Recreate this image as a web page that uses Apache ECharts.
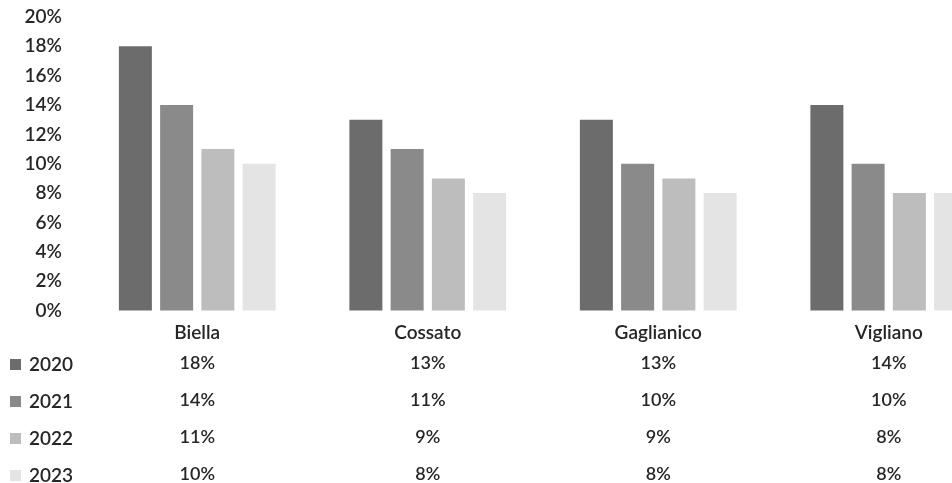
<!DOCTYPE html>
<html>
<head>
<meta charset="utf-8">
<script src="https://cdn.jsdelivr.net/npm/echarts@6/dist/echarts.min.js"></script>
<style>
  html, body { margin: 0; padding: 0; background: #ffffff; overflow: hidden; }
  /* The plot runs past the right edge of the page, so the last bar is cut off */
  #chart { width: 1004px; height: 483px; }
</style>
</head>
<body>
<div id="chart"></div>
<script>
// Comuni and yearly shares (%)
const comuni = ['Biella', 'Cossato', 'Gaglianico', 'Vigliano'];
const years = ['2020', '2021', '2022', '2023'];
const v2020 = [18, 13, 13, 14];
const v2021 = [14, 11, 10, 10];
const v2022 = [11, 9, 9, 8];
const v2023 = [10, 8, 8, 8];
const yTicks = { min: 0, max: 20, step: 2 };

const seriesValues = [v2020, v2021, v2022, v2023];
const colors = ['#6c6c6c', '#8a8a8a', '#bdbdbd', '#e4e4e4'];
const FONT = 'Lato';
const WEIGHT = 600;
const TEXT = '#262626';

const chart = echarts.init(document.getElementById('chart'), null, { renderer: 'canvas' });

chart.setOption({
  animation: false,
  backgroundColor: '#ffffff',
  textStyle: { fontFamily: FONT, color: TEXT },
  grid: { left: 82, top: 17, right: 0, height: 295, containLabel: false },
  legend: {
    orient: 'vertical',
    left: 10,
    top: 355,
    height: 200,
    padding: 0,
    itemWidth: 11,
    itemHeight: 11,
    itemGap: 18,
    icon: 'rect',
    selectedMode: false,
    data: years,
    textStyle: { fontFamily: FONT, fontWeight: WEIGHT, fontSize: 19, color: TEXT, padding: [0, 0, 0, 3] }
  },
  xAxis: {
    type: 'category',
    data: comuni,
    axisLine: { show: false },
    axisTick: { show: false },
    axisLabel: {
      margin: 10,
      interval: 0,
      formatter: function (name, idx) {
        const lines = ['{n|' + name + '}'];
        seriesValues.forEach(function (arr) { lines.push('{v|' + arr[idx] + '%}'); });
        return lines.join('\n');
      },
      rich: {
        n: { fontFamily: FONT, fontWeight: WEIGHT, fontSize: 19, color: TEXT, lineHeight: 24, align: 'center' },
        v: { fontFamily: FONT, fontWeight: WEIGHT, fontSize: 18, color: TEXT, lineHeight: 37, align: 'center' }
      }
    }
  },
  yAxis: {
    type: 'value',
    min: yTicks.min,
    max: yTicks.max,
    interval: yTicks.step,
    axisLine: { show: false },
    axisTick: { show: false },
    splitLine: { show: false },
    axisLabel: {
      margin: 20,
      formatter: '{value}%',
      fontFamily: FONT,
      fontWeight: WEIGHT,
      fontSize: 19,
      color: TEXT
    }
  },
  series: years.map(function (y, i) {
    return {
      name: y,
      type: 'bar',
      data: seriesValues[i],
      barWidth: 33,
      barGap: '25%',
      itemStyle: { color: colors[i] }
    };
  })
});
</script>
</body>
</html>
